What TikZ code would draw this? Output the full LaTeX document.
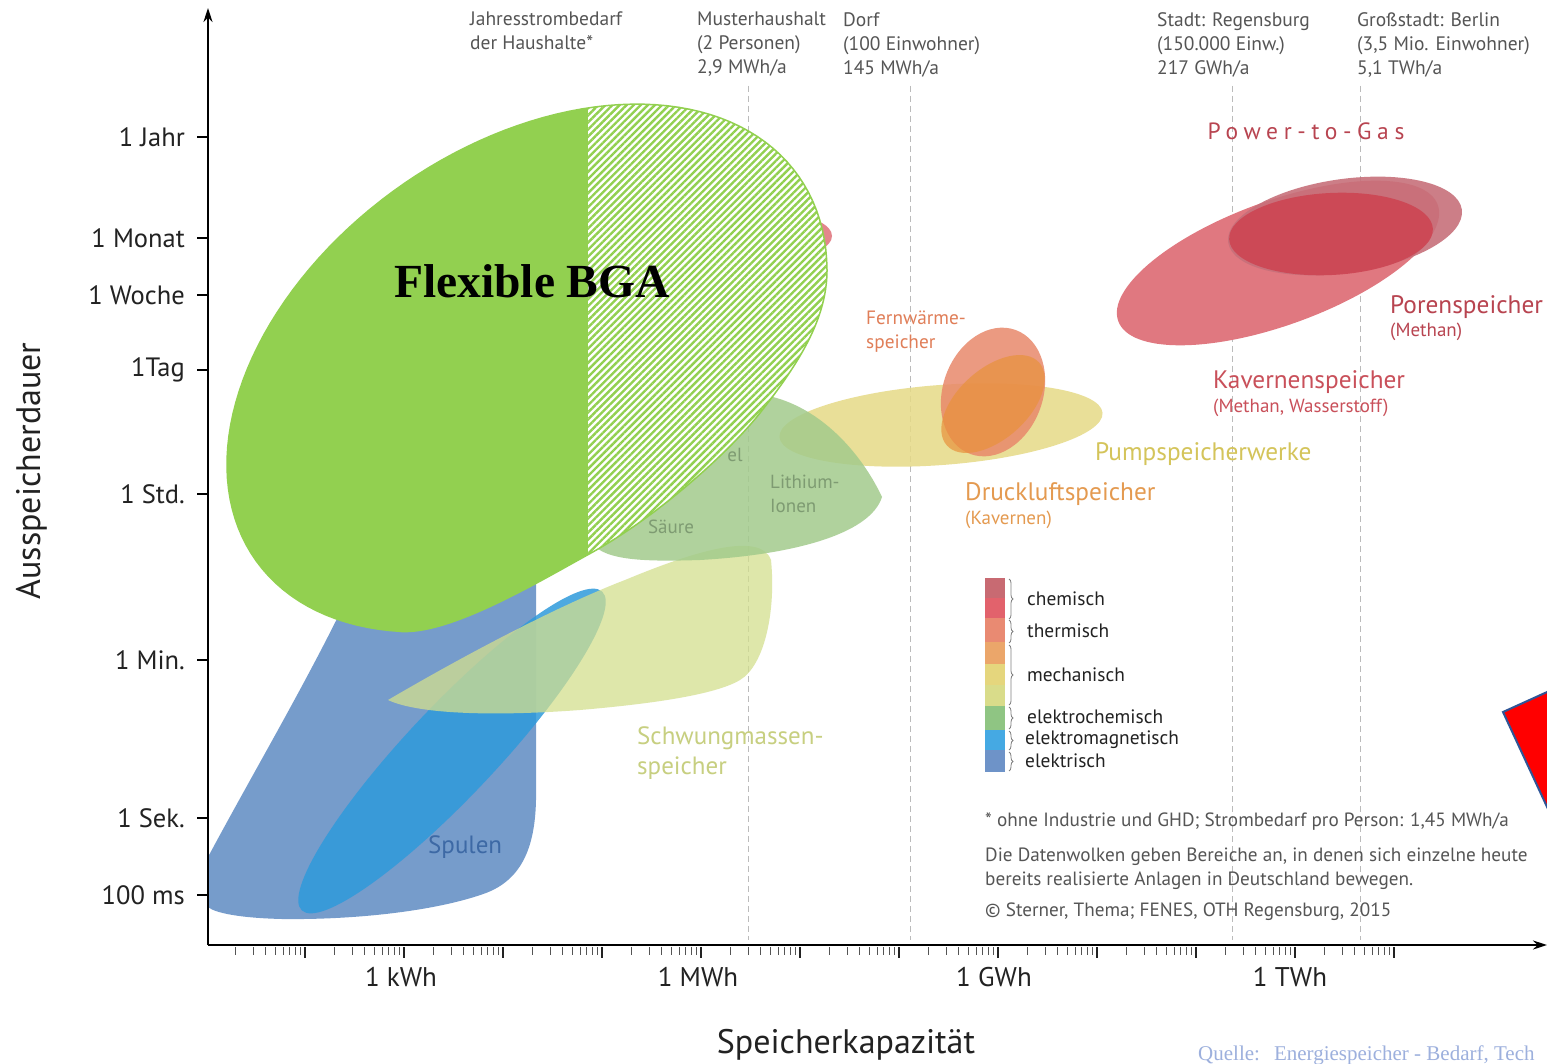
\documentclass[tikz,border=0pt]{standalone}
\usepackage{fontspec}
\setmainfont{PT Sans}
\newfontfamily\tnr{Liberation Serif}
\usetikzlibrary{patterns.meta,decorations.pathreplacing,arrows.meta}
\definecolor{bga}{HTML}{92D050}
\definecolor{bluegray}{HTML}{6F97C9}
\definecolor{brightblue}{HTML}{2F9ADB}
\definecolor{swcol}{HTML}{D3DF8E}
\definecolor{battcol}{HTML}{A3CB8C}
\definecolor{pumpcol}{HTML}{E6DA86}
\definecolor{fwcol}{HTML}{E8896B}
\definecolor{dlcol}{HTML}{E8923C}
\definecolor{kavcol}{HTML}{E07880}
\definecolor{porcol}{HTML}{C7707A}
\definecolor{darkred}{HTML}{CD4553}
\definecolor{txtdark}{HTML}{222222}
\definecolor{txtgray}{HTML}{555555}
\definecolor{porentxt}{HTML}{B84450}
\definecolor{kavtxt}{HTML}{C9505A}
\definecolor{fwtxt}{HTML}{E07E58}
\definecolor{pumptxt}{HTML}{D4C45A}
\definecolor{dltxt}{HTML}{E49A50}
\definecolor{swtxt}{HTML}{C7CF80}
\definecolor{spultxt}{HTML}{3D69A5}
\definecolor{litxt}{HTML}{7E9B72}
\definecolor{quelle}{HTML}{9DB0DD}
\definecolor{dashgray}{HTML}{BBBBBB}
\definecolor{triedge}{HTML}{2F5597}
\definecolor{lga}{HTML}{C86A72}
\definecolor{lgb}{HTML}{E2626C}
\definecolor{lgc}{HTML}{E98A72}
\definecolor{lgd}{HTML}{EBA66A}
\definecolor{lge}{HTML}{E5D67D}
\definecolor{lgf}{HTML}{D9DC8A}
\definecolor{lgg}{HTML}{8FC583}
\definecolor{lgh}{HTML}{45A9E3}
\definecolor{lgi}{HTML}{6E93C8}
\tikzset{
  ylab/.style={anchor=east, inner sep=0pt, text=txtdark, font=\fontsize{26.5}{30}\selectfont},
  xlab/.style={anchor=center, inner sep=0pt, text=txtdark, font=\fontsize{27}{30}\selectfont},
  toplab/.style={anchor=north west, inner sep=0pt, align=left, text=txtgray, font=\fontsize{19.5}{24}\selectfont},
  leglab/.style={anchor=west, inner sep=0pt, text=txtdark, font=\fontsize{19.4}{22}\selectfont},
  notelab/.style={anchor=west, inner sep=0pt, text=txtgray, font=\fontsize{19.2}{24}\selectfont},
  biglab/.style={anchor=west, inner sep=0pt, font=\fontsize{25.3}{28}\selectfont},
  smalllab/.style={anchor=west, inner sep=0pt, font=\fontsize{19}{21}\selectfont},
  guide/.style={dashgray, line width=1pt, dash pattern=on 6pt off 4pt},
  legbrace/.style={decorate, decoration={brace, amplitude=4pt}, draw=gray, line width=0.8pt},
}
\def\bgapath{plot[domain=140:385, samples=100, variable=\t] ({527+271.3*cos(\t)+128.1*sin(\t)}, {368-192.2*cos(\t)+180.8*sin(\t)}) .. controls (827,318) and (800,362) .. (760,413) .. controls (730,451) and (660,515) .. (591,553) .. controls (539,581.5) and (452,634) .. (401.6,631.5) -- cycle}
\begin{document}
\begin{tikzpicture}[x=1pt,y=-1pt]
\useasboundingbox[fill=white] (0,0) rectangle (1547,1064);

% guide lines
\foreach \gx in {748,910,1232,1360} \draw[guide] (\gx,86) -- (\gx,940);

% electric / electromagnetic
\fill[bluegray, opacity=0.95] (208,857) .. controls (260,760) and (320,660) .. (365,560) -- (536,540) -- (536,800) .. controls (535,850) and (520,880) .. (486,893) .. controls (440,910) and (360,920) .. (282,919) .. controls (240,918) and (215,913) .. (208,907) -- cycle;
\begin{scope}[rotate around={46.7:(452,751)}]
\fill[brightblue, opacity=0.85] (452,751) ellipse [x radius=219, y radius=45];
\end{scope}
% Schwungmassen
\fill[swcol, opacity=0.75] (388,700) .. controls (470,652) and (560,605) .. (625,580) .. controls (690,553) and (760,530) .. (771,560) .. controls (776,610) and (765,665) .. (740,680) .. controls (715,695) and (650,704) .. (580,710) .. controls (500,716) and (420,715) .. (388,700) -- cycle;
% small hidden red
\fill[kavcol, opacity=0.9] (790,236) ellipse [x radius=42, y radius=20];
% Pumpspeicher
\begin{scope}[rotate around={4.3:(941,425)}]
\fill[pumpcol, opacity=0.85] (941,425) ellipse [x radius=162, y radius=40];
\end{scope}
% batteries
\fill[battcol, opacity=0.85] (590,540) .. controls (560,470) and (640,395) .. (740,393) .. controls (810,392) and (860,450) .. (882,497) .. controls (870,535) and (790,555) .. (700,560) .. controls (640,562) and (600,560) .. cycle;
% Fernwaerme
\begin{scope}[rotate around={70:(993,392)}]
\fill[fwcol, opacity=0.85] (993,392) ellipse [x radius=66, y radius=50];
\end{scope}
% Druckluft
\begin{scope}[rotate around={42:(993,404)}]
\fill[dlcol, opacity=0.7] (993,404) ellipse [x radius=62, y radius=35];
\end{scope}
% Kavernen / Poren
\begin{scope}[rotate around={20:(1278,263)}]
\fill[kavcol] (1278,263) ellipse [x radius=170, y radius=62];
\end{scope}
\begin{scope}[rotate around={8:(1345,226)}]
\fill[porcol, opacity=0.9] (1345,226) ellipse [x radius=118, y radius=47];
\end{scope}
\begin{scope}[rotate around={3:(1331,234)}]
\fill[darkred, opacity=0.9] (1331,234) ellipse [x radius=102, y radius=41];
\end{scope}

% labels of regions
\node[anchor=center, inner sep=0pt, text=porentxt, font=\fontsize{23.5}{26}\selectfont\addfontfeature{LetterSpace=24}] (p2g) at (1306,131) {Power-to-Gas};
\node[biglab, text=porentxt] (poren) at (1390,307) {Porenspeicher};
\node[smalllab, text=porentxt] (porensub) at (1390,332) {(Methan)};
\node[biglab, text=kavtxt] (kav) at (1213,382) {Kavernenspeicher};
\node[smalllab, text=kavtxt] (kavsub) at (1213,408) {(Methan, Wasserstoff)};
\node[anchor=north west, inner sep=0pt, align=left, text=fwtxt, font=\fontsize{19.3}{24}\selectfont] (fw) at (866,311) {Fernwärme-\\speicher};
\node[biglab, text=pumptxt] (pump) at (1095,454) {Pumpspeicherwerke};
\node[biglab, text=dltxt] (dl) at (965,494) {Druckluftspeicher};
\node[smalllab, text=dltxt] (dlsub) at (965,520) {(Kavernen)};
\node[anchor=north west, inner sep=0pt, align=left, text=litxt, font=\fontsize{19}{24}\selectfont] (li) at (770,475) {Lithium-\\Ionen};
\node[anchor=center, inner sep=0pt, text=litxt, font=\fontsize{19}{24}\selectfont] (el) at (735,455) {el};
\node[anchor=center, inner sep=0pt, text=litxt, font=\fontsize{19}{24}\selectfont] (saeure) at (671,527) {Säure};
\node[anchor=north west, inner sep=0pt, align=left, text=swtxt, font=\fontsize{25}{30}\selectfont] (sw) at (637,726) {Schwungmassen-\\speicher};
\node[anchor=west, inner sep=0pt, text=spultxt, font=\fontsize{25}{28}\selectfont] (spulen) at (428,847) {Spulen};

% top labels
\node[toplab] (t1) at (470,12) {Jahresstrombedarf\\der Haushalte*};
\node[toplab] (t2) at (697,12) {Musterhaushalt\\(2 Personen)\\2,9 MWh/a};
\node[toplab] (t3) at (843,12) {Dorf\\(100 Einwohner)\\145 MWh/a};
\node[toplab] (t4) at (1157,12) {Stadt: Regensburg\\(150.000 Einw.)\\217 GWh/a};
\node[toplab] (t5) at (1357,12) {Großstadt: Berlin\\(3,5 Mio. Einwohner)\\5,1 TWh/a};

% Flexible BGA
\begin{scope}
  \clip (0,0) rectangle (588,1064);
  \fill[bga] \bgapath;
\end{scope}
\begin{scope}
  \clip (588,0) rectangle (1100,1064);
  \fill[white] \bgapath;
  \fill[pattern={Lines[angle=45,distance=5pt,line width=2.4pt]}, pattern color=bga] \bgapath;
\end{scope}
\draw[bga, line width=1.5pt] \bgapath;
\node[anchor=center, inner sep=0pt, font=\tnr\bfseries\fontsize{47.5}{50}\selectfont] (flex) at (532,281) {Flexible BGA};

% axes
\coordinate (origin) at (208,945);
\coordinate (ytop) at (208,8);
\coordinate (xend) at (1547,945);
\draw[line width=2pt, -{Stealth[length=14pt,width=9pt]}] (origin) -- (ytop);
\draw[line width=2pt, -{Stealth[length=14pt,width=9pt]}] (origin) -- (xend);
\foreach \k in {0,...,11}{
  \foreach \n in {2,...,9}{
    \draw[line width=1pt, txtgray] ({206+99*\k+99*log10(\n)},947) -- ++(0,8);
  }
  \draw[line width=1.3pt, txtdark] ({206+99*(\k+1)},947) -- ++(0,11);
}
\foreach \yy/\lab/\nm in {137/1 Jahr/yj,238/1 Monat/ym,295/1 Woche/yw,370/1Tag/yt,494/1 Std./ys,660/1 Min./ymi,818/1 Sek./yse,895/100 ms/yms}{
  \draw[line width=1.5pt] (197,\yy) -- (207,\yy);
  \node[ylab] (\nm) at (185,\yy) {\lab};
}
\node[xlab] (kwh) at (401,977) {1 kWh};
\node[xlab] (mwh) at (698,977) {1 MWh};
\node[xlab] (gwh) at (994,977) {1 GWh};
\node[xlab] (twh) at (1290,977) {1 TWh};
\node[anchor=center, inner sep=0pt, text=txtdark, font=\fontsize{34}{36}\selectfont] (xt) at (846,1045) {Speicherkapazität};
\node[anchor=center, inner sep=0pt, text=txtdark, rotate=90, font=\fontsize{34}{36}\selectfont] (ytl) at (32,471) {Ausspeicherdauer};

% legend
\fill[lga] (985,578) rectangle (1005,599);
\fill[lgb] (985,598) rectangle (1005,619);
\fill[lgc] (985,618) rectangle (1005,643);
\fill[lgd] (985,642) rectangle (1005,665);
\fill[lge] (985,664) rectangle (1005,686);
\fill[lgf] (985,685) rectangle (1005,707);
\fill[lgg] (985,706) rectangle (1005,731);
\fill[lgh] (985,730) rectangle (1005,751);
\fill[lgi] (985,750) rectangle (1005,772);
\draw[legbrace] (1009,579) -- (1009,619);
\draw[legbrace] (1009,620) -- (1009,643);
\draw[legbrace] (1009,645) -- (1009,705);
\draw[legbrace] (1009,707) -- (1009,729);
\draw[legbrace] (1009,731) -- (1009,750);
\draw[legbrace] (1009,752) -- (1009,771);
\node[leglab] (l1) at (1027,599) {chemisch};
\node[leglab] (l2) at (1027,631) {thermisch};
\node[leglab] (l3) at (1027,675) {mechanisch};
\node[leglab] (l4) at (1027,717) {elektrochemisch};
\node[leglab] (l5) at (1025,740) {elektromagnetisch};
\node[leglab] (l6) at (1025,761) {elektrisch};

% notes
\node[notelab] (n1) at (985,822) {* ohne Industrie und GHD; Strombedarf pro Person: 1,45 MWh/a};
\node[notelab] (n2) at (985,857) {Die Datenwolken geben Bereiche an, in denen sich einzelne heute};
\node[notelab] (n3) at (985,881) {bereits realisierte Anlagen in Deutschland bewegen.};
\node[notelab] (n4) at (985,912) {© Sterner, Thema; FENES, OTH Regensburg, 2015};

% triangle and source
\begin{scope}
\clip (0,0) rectangle (1547,1064);
\fill[red, draw=triedge, line width=2pt, line join=miter] (1503,712) -- (1600,668) -- (1580,878) -- cycle;
\end{scope}
\node[anchor=base west, inner sep=0pt, text=quelle, font=\tnr\fontsize{21}{22}\selectfont] (src) at (1198,1060) {Quelle:\hspace{14pt}Energiespeicher - Bedarf, Tech};
\end{tikzpicture}
\end{document}
